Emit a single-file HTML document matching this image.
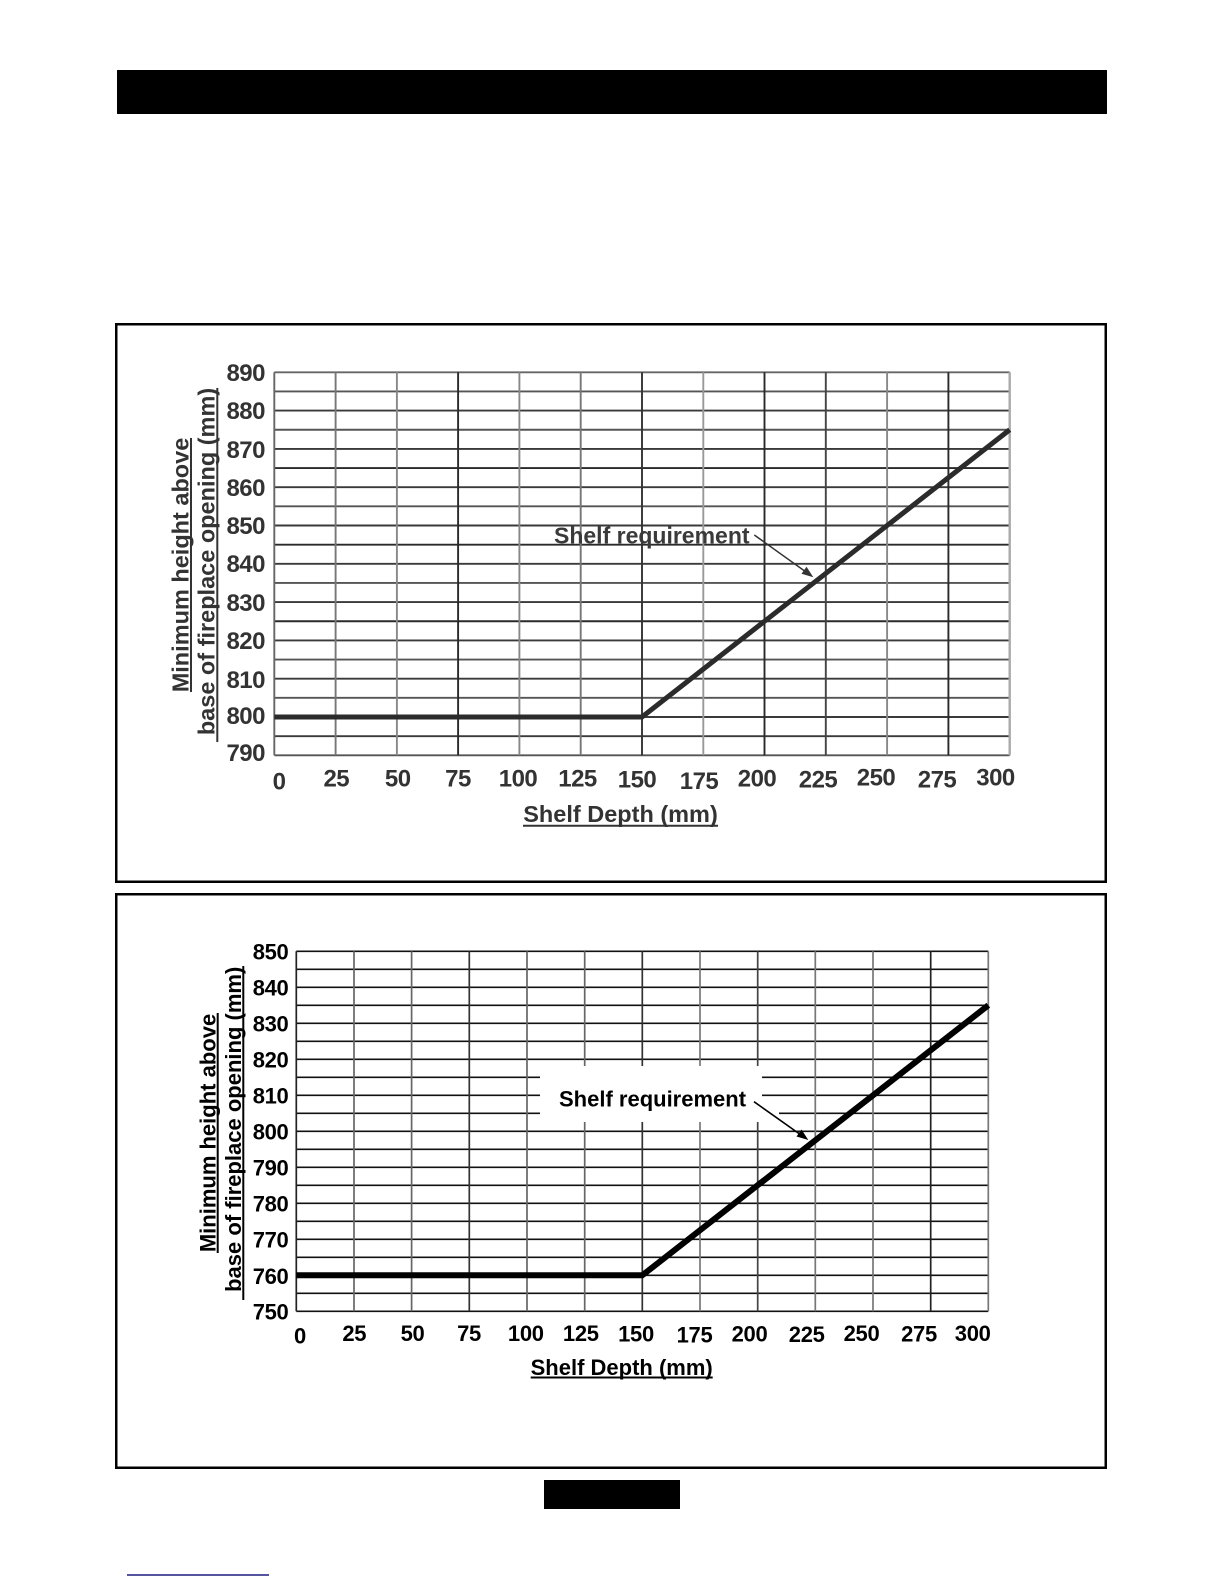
<!DOCTYPE html>
<html>
<head>
<meta charset="utf-8">
<style>
  html, body { margin: 0; padding: 0; background: #fff; }
  body { width: 1224px; height: 1584px; overflow: hidden; }
  svg { display: block; }
  text { font-family: "Liberation Sans", Arial, sans-serif; font-weight: bold; }
</style>
</head>
<body>
<svg width="1224" height="1584" viewBox="0 0 1224 1584" xmlns="http://www.w3.org/2000/svg">
  <rect x="0" y="0" width="1224" height="1584" fill="#fff"/>

  <!-- top black bar -->
  <rect x="117" y="70" width="990" height="44" fill="#000"/>

  <!-- ================= BOX 1 ================= -->
  <rect x="116.25" y="324.25" width="989.5" height="557.5" fill="none" stroke="#000" stroke-width="2.5"/>

  <g stroke-width="1.9" fill="none">
    <!-- horizontal grid chart 1 -->
    <g stroke="#3a3a3a">
      <line x1="274.3" y1="372.3" x2="1009.7" y2="372.3" stroke="#666"/>
      <line x1="274.3" y1="391.45" x2="1009.7" y2="391.45" stroke="#555"/>
      <line x1="274.3" y1="410.6" x2="1009.7" y2="410.6"/>
      <line x1="274.3" y1="429.75" x2="1009.7" y2="429.75" stroke="#555"/>
      <line x1="274.3" y1="448.9" x2="1009.7" y2="448.9"/>
      <line x1="274.3" y1="468.05" x2="1009.7" y2="468.05" stroke="#2a2a2a"/>
      <line x1="274.3" y1="487.2" x2="1009.7" y2="487.2"/>
      <line x1="274.3" y1="506.35" x2="1009.7" y2="506.35" stroke="#555"/>
      <line x1="274.3" y1="525.5" x2="1009.7" y2="525.5"/>
      <line x1="274.3" y1="544.65" x2="1009.7" y2="544.65" stroke="#2a2a2a"/>
      <line x1="274.3" y1="563.8" x2="1009.7" y2="563.8"/>
      <line x1="274.3" y1="582.95" x2="1009.7" y2="582.95" stroke="#555"/>
      <line x1="274.3" y1="602.1" x2="1009.7" y2="602.1"/>
      <line x1="274.3" y1="621.25" x2="1009.7" y2="621.25" stroke="#2a2a2a"/>
      <line x1="274.3" y1="640.4" x2="1009.7" y2="640.4"/>
      <line x1="274.3" y1="659.55" x2="1009.7" y2="659.55" stroke="#555"/>
      <line x1="274.3" y1="678.7" x2="1009.7" y2="678.7"/>
      <line x1="274.3" y1="697.85" x2="1009.7" y2="697.85" stroke="#555"/>
      <line x1="274.3" y1="717.0" x2="1009.7" y2="717.0"/>
      <line x1="274.3" y1="736.15" x2="1009.7" y2="736.15"/>
      <line x1="274.3" y1="755.3" x2="1009.7" y2="755.3" stroke="#555"/>
    </g>
    <!-- vertical grid chart 1 -->
    <g>
      <line x1="274.3" y1="372.3" x2="274.3" y2="755.3" stroke="#666"/>
      <line x1="335.6" y1="372.3" x2="335.6" y2="755.3" stroke="#777"/>
      <line x1="396.9" y1="372.3" x2="396.9" y2="755.3" stroke="#888"/>
      <line x1="458.1" y1="372.3" x2="458.1" y2="755.3" stroke="#2a2a2a"/>
      <line x1="519.4" y1="372.3" x2="519.4" y2="755.3" stroke="#888"/>
      <line x1="580.7" y1="372.3" x2="580.7" y2="755.3" stroke="#777"/>
      <line x1="642.0" y1="372.3" x2="642.0" y2="755.3" stroke="#333"/>
      <line x1="703.3" y1="372.3" x2="703.3" y2="755.3" stroke="#999"/>
      <line x1="764.5" y1="372.3" x2="764.5" y2="755.3" stroke="#2a2a2a"/>
      <line x1="825.8" y1="372.3" x2="825.8" y2="755.3" stroke="#444"/>
      <line x1="887.1" y1="372.3" x2="887.1" y2="755.3" stroke="#888"/>
      <line x1="948.4" y1="372.3" x2="948.4" y2="755.3" stroke="#2a2a2a"/>
      <line x1="1009.7" y1="372.3" x2="1009.7" y2="755.3" stroke="#aaa" stroke-width="2.4"/>
    </g>
  </g>

  <!-- data line chart 1 -->
  <polyline points="274.3,717 642,717 1009.7,429.75" fill="none" stroke="#2b2b2b" stroke-width="5"/>

  <!-- y tick labels chart 1 -->
  <g fill="#333" font-size="24" text-anchor="end" letter-spacing="-0.5">
    <text x="265" y="381">890</text>
    <text x="265" y="419">880</text>
    <text x="265" y="458">870</text>
    <text x="265" y="496">860</text>
    <text x="265" y="534">850</text>
    <text x="265" y="572">840</text>
    <text x="265" y="611">830</text>
    <text x="265" y="649">820</text>
    <text x="265" y="688">810</text>
    <text x="265" y="724">800</text>
    <text x="265" y="761">790</text>
  </g>

  <!-- x tick labels chart 1 -->
  <g fill="#333" font-size="24" text-anchor="middle" letter-spacing="-0.5">
    <text x="279" y="789.3">0</text>
    <text x="336.3" y="786.7">25</text>
    <text x="397.7" y="786.7">50</text>
    <text x="458" y="786.7">75</text>
    <text x="518" y="786.7">100</text>
    <text x="577.5" y="786.7">125</text>
    <text x="637" y="787.3">150</text>
    <text x="699" y="789">175</text>
    <text x="757" y="786.7">200</text>
    <text x="818" y="787.3">225</text>
    <text x="876" y="785.7">250</text>
    <text x="937" y="787.3">275</text>
    <text x="995.5" y="785.7">300</text>
  </g>

  <!-- x axis title chart 1 -->
  <text x="620.5" y="822" fill="#333" font-size="23.5" text-anchor="middle">Shelf Depth (mm)</text>
  <line x1="523" y1="825.7" x2="718" y2="825.7" stroke="#333" stroke-width="2"/>

  <!-- y axis title chart 1 -->
  <text transform="translate(188.5,565) rotate(-90)" fill="#333" font-size="23.5" text-anchor="middle">Minimum height above</text>
  <line x1="191" y1="438" x2="191" y2="692" stroke="#333" stroke-width="2"/>
  <text transform="translate(214.5,561.5) rotate(-90)" fill="#333" font-size="23.5" text-anchor="middle">base of fireplace opening (mm)</text>
  <line x1="217.3" y1="388" x2="217.3" y2="742" stroke="#333" stroke-width="2"/>

  <!-- annotation chart 1 -->
  <text x="554" y="543.3" fill="#3a3a3a" font-size="23">Shelf requirement</text>
  <line x1="754.3" y1="535" x2="806" y2="572" stroke="#333" stroke-width="1.5"/>
  <polygon points="813.3,577.3 801.5,573.8 806.5,566.8" fill="#333"/>

  <!-- ================= BOX 2 ================= -->
  <rect x="116.25" y="894.25" width="989.5" height="573.5" fill="none" stroke="#000" stroke-width="2.5"/>

  <g stroke-width="1.7" fill="none">
    <!-- horizontal grid chart 2 -->
    <g stroke="#111">
      <line x1="296.3" y1="951.3" x2="988.3" y2="951.3"/>
      <line x1="296.3" y1="969.3" x2="988.3" y2="969.3"/>
      <line x1="296.3" y1="987.3" x2="988.3" y2="987.3"/>
      <line x1="296.3" y1="1005.3" x2="988.3" y2="1005.3"/>
      <line x1="296.3" y1="1023.3" x2="988.3" y2="1023.3"/>
      <line x1="296.3" y1="1041.3" x2="988.3" y2="1041.3"/>
      <line x1="296.3" y1="1059.3" x2="988.3" y2="1059.3"/>
      <line x1="296.3" y1="1077.3" x2="988.3" y2="1077.3"/>
      <line x1="296.3" y1="1095.3" x2="988.3" y2="1095.3"/>
      <line x1="296.3" y1="1113.3" x2="988.3" y2="1113.3"/>
      <line x1="296.3" y1="1131.3" x2="988.3" y2="1131.3"/>
      <line x1="296.3" y1="1149.3" x2="988.3" y2="1149.3"/>
      <line x1="296.3" y1="1167.3" x2="988.3" y2="1167.3"/>
      <line x1="296.3" y1="1185.3" x2="988.3" y2="1185.3"/>
      <line x1="296.3" y1="1203.3" x2="988.3" y2="1203.3"/>
      <line x1="296.3" y1="1221.3" x2="988.3" y2="1221.3"/>
      <line x1="296.3" y1="1239.3" x2="988.3" y2="1239.3"/>
      <line x1="296.3" y1="1257.3" x2="988.3" y2="1257.3"/>
      <line x1="296.3" y1="1275.3" x2="988.3" y2="1275.3"/>
      <line x1="296.3" y1="1293.3" x2="988.3" y2="1293.3"/>
      <line x1="296.3" y1="1311.3" x2="988.3" y2="1311.3"/>
    </g>
    <!-- vertical grid chart 2 -->
    <g stroke="#555">
      <line x1="296.3" y1="951.3" x2="296.3" y2="1311.3" stroke="#222"/>
      <line x1="354.0" y1="951.3" x2="354.0" y2="1311.3" stroke="#666"/>
      <line x1="411.6" y1="951.3" x2="411.6" y2="1311.3" stroke="#666"/>
      <line x1="469.3" y1="951.3" x2="469.3" y2="1311.3" stroke="#333"/>
      <line x1="527.0" y1="951.3" x2="527.0" y2="1311.3" stroke="#666"/>
      <line x1="584.7" y1="951.3" x2="584.7" y2="1311.3" stroke="#666"/>
      <line x1="642.3" y1="951.3" x2="642.3" y2="1311.3" stroke="#333"/>
      <line x1="700.0" y1="951.3" x2="700.0" y2="1311.3" stroke="#777"/>
      <line x1="757.7" y1="951.3" x2="757.7" y2="1311.3" stroke="#444"/>
      <line x1="815.3" y1="951.3" x2="815.3" y2="1311.3" stroke="#777"/>
      <line x1="873.0" y1="951.3" x2="873.0" y2="1311.3" stroke="#777"/>
      <line x1="930.7" y1="951.3" x2="930.7" y2="1311.3" stroke="#222"/>
      <line x1="988.3" y1="951.3" x2="988.3" y2="1311.3" stroke="#777"/>
    </g>
  </g>

  <!-- white label background chart 2 -->
  <rect x="540" y="1066" width="222" height="56" fill="#fff"/>
  <rect x="762" y="1107" width="17" height="10" fill="#fff"/>

  <!-- data line chart 2 -->
  <polyline points="296.3,1275.3 642.3,1275.3 988.3,1005.3" fill="none" stroke="#000" stroke-width="6"/>

  <!-- y tick labels chart 2 -->
  <g fill="#000" font-size="22" text-anchor="end" letter-spacing="-0.3">
    <text x="288.5" y="959.5">850</text>
    <text x="288.5" y="995.5">840</text>
    <text x="288.5" y="1031.5">830</text>
    <text x="288.5" y="1067.5">820</text>
    <text x="288.5" y="1103.5">810</text>
    <text x="288.5" y="1139.5">800</text>
    <text x="288.5" y="1175.5">790</text>
    <text x="288.5" y="1211.5">780</text>
    <text x="288.5" y="1247.5">770</text>
    <text x="288.5" y="1284">760</text>
    <text x="288.5" y="1319.5">750</text>
  </g>

  <!-- x tick labels chart 2 -->
  <g fill="#000" font-size="22" text-anchor="middle" letter-spacing="-0.3">
    <text x="300" y="1343.3">0</text>
    <text x="354.3" y="1341">25</text>
    <text x="412.5" y="1341">50</text>
    <text x="469" y="1341">75</text>
    <text x="525.8" y="1341">100</text>
    <text x="580.8" y="1341">125</text>
    <text x="636" y="1341.7">150</text>
    <text x="694.5" y="1342.7">175</text>
    <text x="749.5" y="1341.7">200</text>
    <text x="806.7" y="1342">225</text>
    <text x="861.5" y="1341">250</text>
    <text x="919" y="1341.7">275</text>
    <text x="972.7" y="1341">300</text>
  </g>

  <!-- x axis title chart 2 -->
  <text x="621.7" y="1375" fill="#000" font-size="22" text-anchor="middle">Shelf Depth (mm)</text>
  <line x1="530.7" y1="1377.5" x2="712.7" y2="1377.5" stroke="#000" stroke-width="2"/>

  <!-- y axis title chart 2 -->
  <text transform="translate(215.3,1133) rotate(-90)" fill="#000" font-size="22" text-anchor="middle">Minimum height above</text>
  <line x1="217.7" y1="1013" x2="217.7" y2="1253" stroke="#000" stroke-width="2"/>
  <text transform="translate(241,1129.3) rotate(-90)" fill="#000" font-size="22" text-anchor="middle">base of fireplace opening (mm)</text>
  <line x1="243.3" y1="966" x2="243.3" y2="1300" stroke="#000" stroke-width="2"/>

  <!-- annotation chart 2 -->
  <text x="559" y="1106.7" fill="#000" font-size="22">Shelf requirement</text>
  <line x1="754" y1="1101.7" x2="801" y2="1135" stroke="#000" stroke-width="1.6"/>
  <polygon points="808.3,1140 796.5,1136.5 801.5,1129.5" fill="#000"/>

  <!-- bottom black tab -->
  <rect x="544" y="1480" width="136" height="29" fill="#000"/>

  <!-- bottom blue rule -->
  <line x1="127" y1="1575" x2="269" y2="1575" stroke="#1c1c80" stroke-width="1.5"/>
</svg>
</body>
</html>
